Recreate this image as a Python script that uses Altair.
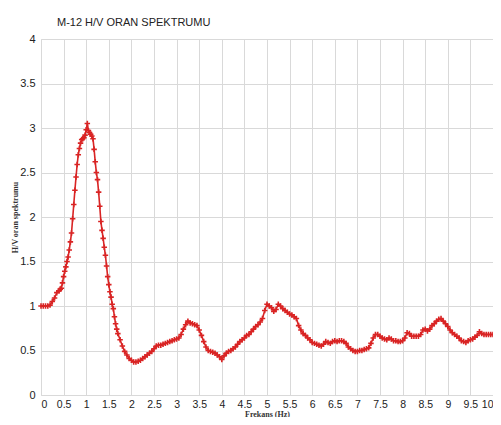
import altair as alt
import pandas as pd

# H/V ratio values
hv_a = [1.0, 1.0, 1.0, 1.0, 1.01, 1.05, 1.09, 1.15]  # 0.00 .. 0.35 step 0.05
hv_b = [1.17, 1.19, 1.20, 1.26, 1.33, 1.39, 1.44, 1.50, 1.55, 1.63, 1.72, 1.82, 1.98,
        2.14, 2.30, 2.45, 2.59, 2.70, 2.77, 2.83, 2.87, 2.88, 2.89, 2.92, 2.98, 3.05,
        2.97, 2.95, 2.93, 2.91, 2.88, 2.76, 2.62, 2.50, 2.42, 2.28, 2.12, 1.95, 1.85,
        1.76, 1.66, 1.57, 1.45, 1.33, 1.24, 1.16, 1.10, 1.02, 0.97, 0.88, 0.80, 0.74]  # 0.400 .. step 0.025
hv_c = [0.69, 0.62, 0.55, 0.49, 0.45, 0.41, 0.39, 0.37, 0.37, 0.38, 0.39, 0.41, 0.43,
        0.45, 0.47, 0.49, 0.52, 0.55, 0.56, 0.56, 0.57, 0.58, 0.59, 0.60, 0.61, 0.62,
        0.63, 0.64, 0.68, 0.74, 0.79, 0.83, 0.81, 0.80, 0.79, 0.78, 0.73, 0.67, 0.60,
        0.54, 0.50, 0.49, 0.48, 0.47, 0.45, 0.43, 0.40, 0.44, 0.47, 0.49, 0.50, 0.52,
        0.54, 0.57, 0.60, 0.62, 0.64, 0.67, 0.68, 0.71, 0.74, 0.77, 0.79, 0.82, 0.86,
        0.95, 1.02, 1.00, 0.98, 0.94, 0.96, 1.02, 1.00, 0.97, 0.95, 0.93, 0.91, 0.90,
        0.88, 0.86, 0.78, 0.73, 0.69, 0.67, 0.64, 0.62, 0.59, 0.58, 0.57, 0.56, 0.55,
        0.57, 0.60, 0.59, 0.58, 0.60, 0.61, 0.60, 0.61, 0.61, 0.60, 0.58, 0.54, 0.52,
        0.50, 0.49, 0.49, 0.50, 0.50, 0.51, 0.52, 0.53, 0.58, 0.64, 0.68, 0.68, 0.66,
        0.64, 0.63, 0.62, 0.64, 0.63, 0.61, 0.61, 0.60, 0.60, 0.61, 0.64, 0.70, 0.69,
        0.66, 0.66, 0.66, 0.66, 0.68, 0.73, 0.74, 0.72, 0.74, 0.78, 0.80, 0.83, 0.85,
        0.86, 0.83, 0.80, 0.77, 0.73, 0.70, 0.68, 0.66, 0.64, 0.61, 0.60, 0.59, 0.61,
        0.62, 0.63, 0.65, 0.67, 0.71, 0.69, 0.68, 0.68, 0.68, 0.68, 0.68]  # 1.70 .. 10.00 step 0.05

freq_a = [round(0.05 * i, 3) for i in range(len(hv_a))]
freq_b = [round(0.4 + 0.025 * i, 3) for i in range(len(hv_b))]
freq_c = [round(1.7 + 0.05 * i, 3) for i in range(len(hv_c))]

x_ticks = [i * 0.5 for i in range(21)]
y_ticks = [0, 0.5, 1, 1.5, 2, 2.5, 3, 3.5, 4]

df = pd.DataFrame({"f": freq_a + freq_b + freq_c, "hv": hv_a + hv_b + hv_c})

RED = "#d92424"

x = alt.X("f:Q", scale=alt.Scale(domain=[0, 10], nice=False),
          axis=alt.Axis(values=x_ticks, title="Frekans (Hz)", format="~g",
                        ticks=False, labelPadding=4, labelFontSize=10.5, labelFont="Liberation Sans",
                        labelColor="#222", titleFont="Liberation Serif", titleFontSize=8,
                        titleFontWeight="bold", titleColor="#333", titleY=19,
                        titleBaseline="middle", domain=False, gridColor="#d9d9d9",
                        labelOverlap=False))
y = alt.Y("hv:Q", scale=alt.Scale(domain=[0, 4], nice=False),
          axis=alt.Axis(values=y_ticks, title="H/V oran spektrumu", ticks=False, format="~g",
                        labelPadding=6, labelFontSize=11, labelFont="Liberation Sans",
                        labelColor="#222", titleFont="Liberation Serif", titleFontSize=8,
                        titleFontWeight="bold", titleColor="#333", titleX=-26,
                        titleY=178, titleBaseline="middle", domain=False, gridColor="#d9d9d9"))

line = alt.Chart(df).mark_line(color=RED, strokeWidth=1.6).encode(x=x, y=y)
pts = alt.Chart(df).mark_point(shape="M-1,0H1M0,-1V1", filled=False, color=RED,
                               size=30, strokeWidth=1.6, opacity=1).encode(x=x, y=y)

chart = (line + pts).properties(
    width=452, height=356,
    autosize=alt.AutoSizeParams(type="none"),
    padding={"left": 33, "top": 31, "right": 0, "bottom": 22},
    title=alt.TitleParams("M-12 H/V ORAN SPEKTRUMU", anchor="start", dx=46, offset=5,
                          fontSize=11, font="Liberation Sans", fontWeight="normal",
                          color="#222"),
).configure_view(stroke="#777", strokeWidth=1).configure(background="white")

chart.save("out.html", embed_options={"renderer": "svg", "actions": False})
